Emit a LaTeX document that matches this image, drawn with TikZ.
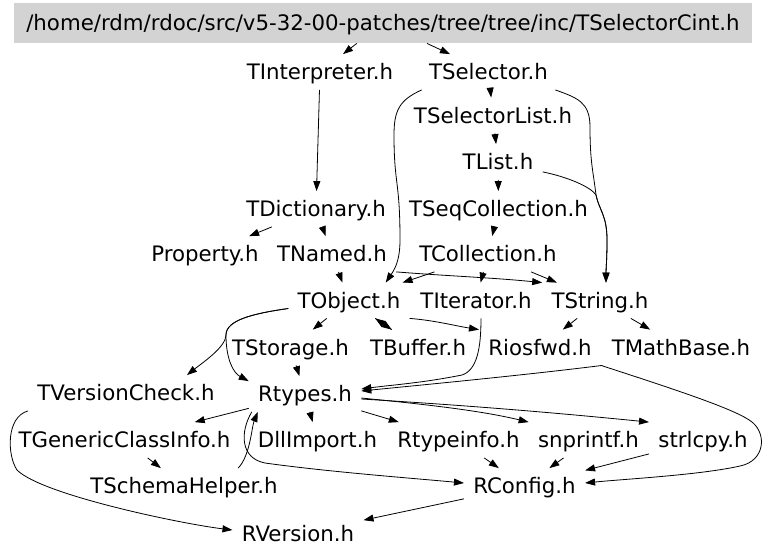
\documentclass[tikz,border=0pt]{standalone}
\usepackage{fontspec}
\setmainfont{DejaVu Sans}
\usetikzlibrary{graphs, arrows.meta}
\definecolor{hdrgray}{RGB}{211,211,211}

\begin{document}
\begin{tikzpicture}[x=1pt, y=-1pt, line width=0.8pt,
    >={Triangle[length=10pt, width=7pt]},
    file/.style={inner xsep=9pt, inner ysep=0pt, minimum height=35pt,
        text height=15.5pt, text depth=0pt, font=\fontsize{21.3pt}{25pt}\selectfont},
    hdr/.style={file, fill=hdrgray, minimum width=738pt, minimum height=40pt}]
    \useasboundingbox (0,0) rectangle (768,558);

    % 最上面的檔案
    \node[hdr]  (Title)  at (383,23)  {/home/rdm/rdoc/src/v5-32-00-patches/tree/tree/inc/TSelectorCint.h};

    \node[file] (TInterpreter)      at (320,72)    {TInterpreter.h};
    \node[file] (TSelector)         at (488.5,72)  {TSelector.h};
    \node[file] (TSelectorList)     at (493,115.5) {TSelectorList.h};
    \node[file] (TList)             at (498,162)   {TList.h};
    \node[file] (TDictionary)       at (316,209)   {TDictionary.h};
    \node[file] (TSeqCollection)    at (498.5,209) {TSeqCollection.h};
    \node[file] (Property)          at (205,254)   {Property.h};
    \node[file] (TNamed)            at (332,254)   {TNamed.h};
    \node[file] (TCollection)       at (488,254)   {TCollection.h};
    \node[file] (TObject)           at (349,300.5) {TObject.h};
    \node[file] (TIterator)         at (476,300.5) {TIterator.h};
    \node[file] (TString)           at (600,300.5) {TString.h};
    \node[file] (TStorage)          at (290.5,347.5) {TStorage.h};
    \node[file] (TBuffer)           at (418,347.5) {TBuffer.h};
    \node[file] (Riosfwd)           at (540,347.5) {Riosfwd.h};
    \node[file] (TMathBase)         at (681,347.5) {TMathBase.h};
    \node[file] (TVersionCheck)     at (126,393)   {TVersionCheck.h};
    \node[file] (Rtypes)            at (305,394)   {Rtypes.h};
    \node[file] (TGenericClassInfo) at (124.5,440) {TGenericClassInfo.h};
    \node[file] (DllImport)         at (317.5,440) {DllImport.h};
    \node[file] (Rtypeinfo)         at (458.5,440) {Rtypeinfo.h};
    \node[file] (snprintf)          at (588.5,440) {snprintf.h};
    \node[file] (strlcpy)           at (703,440)   {strlcpy.h};
    \node[file] (TSchemaHelper)     at (184,486)   {TSchemaHelper.h};
    \node[file] (RConfig)           at (524.5,486) {RConfig.h};
    \node[file] (RVersion)          at (298,534)   {RVersion.h};

    % 直線的 include
    \graph{
        (Title) -> (TInterpreter) -> (TDictionary) -> (Property);
        (Title) -> (TSelector) -> (TSelectorList) -> (TList) -> (TSeqCollection) -> (TCollection) -> (TObject);
        (TDictionary) -> (TNamed) -> (TObject);
        (TCollection) -> (TIterator);
        (TCollection) -> (TString) -> (Riosfwd);
        (TString) -> (TMathBase);
        (TObject) -> (TStorage) -> (Rtypes);
        (TObject) -> (TBuffer) -> (TObject);
        (Rtypes) -> (TGenericClassInfo) -> (TSchemaHelper);
        (Rtypes) -> (DllImport);
        (Rtypes) -> (Rtypeinfo) -> (RConfig) -> (RVersion);
        (snprintf) -> (RConfig);
        (strlcpy) -> (RConfig);
    };

    % 彎曲的 include
    \draw[->] ([xshift=2pt]TSelector.south west) .. controls +(-22,10) and +(0,-25) .. (394,135)
        .. controls +(0,50) and +(0,-60) .. (400,240) .. controls +(0,22) and +(8,-12) .. ([xshift=-24pt]TObject.north east);
    \draw[->] ([xshift=-2pt]TSelector.south east) .. controls +(22,8) and +(0,-25) .. (590,127)
        .. controls +(0,35) and +(-3,-25) .. (596,195) .. controls +(3,15) and +(0,-25) .. (607,240)
        .. controls +(0,20) and +(0,-15) .. ([xshift=6pt]TString.north);
    \draw[->] ([yshift=8pt]TList.south east) .. controls +(25,5) and +(-5,-8) .. (596,195)
        .. controls +(3,15) and +(0,-25) .. (607,240) .. controls +(0,20) and +(0,-15) .. ([xshift=6pt]TString.north);
    \draw[->] (TNamed.south east) .. controls +(50,4) and +(-50,-5) .. (TString.north west);
    \draw[->] ([yshift=-8pt]TObject.west) .. controls +(-35,5) and +(0,-15) .. (226,335)
        .. controls +(0,12) and +(15,-12) .. ([xshift=-37pt]TVersionCheck.north east);
    \draw[->] ([yshift=-8pt]TObject.west) .. controls +(-35,5) and +(0,-15) .. (226,335)
        .. controls +(0,25) and +(-15,-8) .. ([yshift=-5pt]Rtypes.north west);
    \draw[->] (TObject.south east) .. controls +(25,2) and +(-25,-4) .. (Riosfwd.north west);
    \draw[->] ([xshift=5pt]TIterator.south) .. controls +(0,30) and +(15,-5) .. (462,375)
        .. controls +(-40,8) and +(30,-4) .. ([yshift=5pt]Rtypes.east);
    \draw[->] (TMathBase.south west) .. controls +(-80,10) and +(60,-6) .. ([yshift=3pt]Rtypes.east);
    \draw[->] (Riosfwd.south east) .. controls +(80,26) and +(-15,-12) .. (752,422)
        .. controls +(15,12) and +(25,-5) .. (740,466) .. controls +(-40,9) and +(40,-4) .. ([yshift=3pt]RConfig.east);
    \draw[->] (TVersionCheck.south west) .. controls +(-22,6) and +(-10,-15) .. (17,470)
        .. controls +(25,25) and +(-50,-6) .. ([yshift=4pt]RVersion.west);
    \draw[->] ([xshift=-49pt]TSchemaHelper.north east) .. controls +(12,-12) and +(-6,15) .. ([xshift=9pt]Rtypes.south west);
    \draw[->] ([xshift=3pt]Rtypes.south west) .. controls (240,432) and (240,458) .. (265,463)
        .. controls (330,472) and (410,478) .. ([yshift=3pt]RConfig.west);
    \draw[->] ([yshift=-4pt]Rtypes.east) .. controls +(60,6) and +(-50,-12) .. (snprintf.north west);
    \draw[->] ([yshift=-5pt]Rtypes.east) .. controls +(100,6) and +(-100,-10) .. (strlcpy.north west);
\end{tikzpicture}
\end{document}
